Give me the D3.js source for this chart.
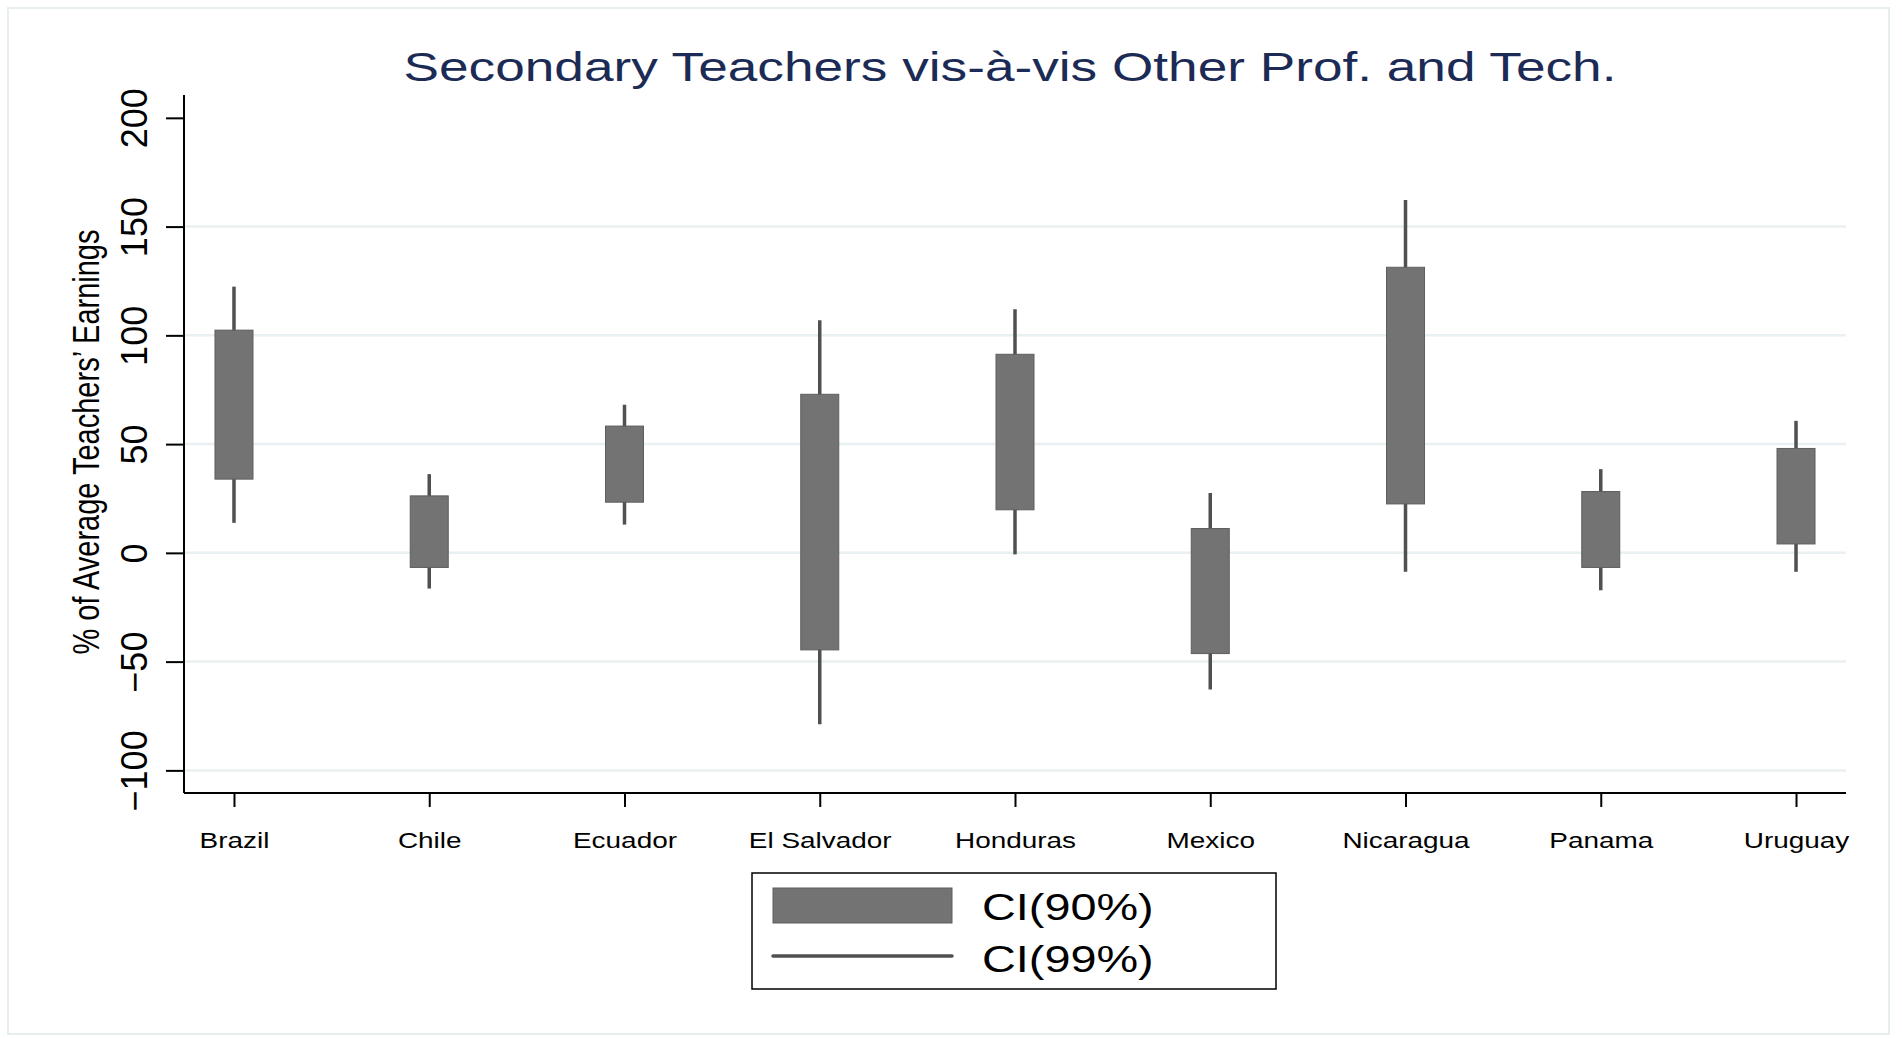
<!DOCTYPE html>
<html>
<head>
<meta charset="utf-8">
<script src="https://cdn.jsdelivr.net/npm/d3@7"></script>
<style>
  body { margin: 0; background: #fff; }
  text { font-family: Arial, "Liberation Sans", sans-serif; }
</style>
</head>
<body>
<div id="chart"></div>
<script>
// Data
const countries = ['Brazil', 'Chile', 'Ecuador', 'El Salvador', 'Honduras', 'Mexico', 'Nicaragua', 'Panama', 'Uruguay']
const ci90Low  = [33.9, -6.7, 23.3, -44.6, 19.8, -46.3, 22.5, -6.7, 4.1]
const ci90High = [102.4, 26.2, 58.3, 72.9, 91.3, 11.2, 131.3, 28.2, 48.0]
const ci99Low  = [13.8, -16.4, 13.0, -78.8, -0.7, -62.8, -8.7, -17.2, -8.7]
const ci99High = [122.4, 36.2, 68.1, 107.0, 112.0, 27.5, 162.2, 38.5, 60.7]
const yTicks = [-100, -50, 0, 50, 100, 150, 200]
const gridTicks = [-100, -50, 0, 50, 100, 150]
const legendLabels = ['CI(90%)', 'CI(99%)']

const data = countries.map((c, i) => ({
    country: c, lo90: ci90Low[i], hi90: ci90High[i], lo99: ci99Low[i], hi99: ci99High[i]
}))

// Constants
const width = 1902
const height = 1038
const plot = { left: 184, right: 1846, top: 95, bottom: 793 }
const stretch = 1.3   // glyphs in the original are drawn wide
const boxWidth = 38
const boxColor = '#737373'
const whiskerColor = '#505050'
const gridColor = '#e8f0f1'

const svg = d3.select('#chart')
    .append('svg')
    .attr('width', width)
    .attr('height', height)

// Outer frame
svg.append('rect')
    .attr('x', 8).attr('y', 8)
    .attr('width', 1881).attr('height', 1026)
    .attr('fill', '#fff')
    .attr('stroke', '#e6eef0')
    .attr('stroke-width', 2)

// Scales
const x = d3.scalePoint()
    .domain(countries)
    .range([plot.left, plot.right])
    .padding(0.256)

const y = d3.scaleLinear()
    .domain([-110.4, 210.5])
    .range([plot.bottom, plot.top])

// Gridlines
svg.append('g').selectAll('line')
    .data(gridTicks)
    .enter().append('line')
    .attr('x1', plot.left).attr('x2', plot.right)
    .attr('y1', d => y(d)).attr('y2', d => y(d))
    .attr('stroke', gridColor)
    .attr('stroke-width', 2.5)

// Title
svg.append('text')
    .attr('transform', `translate(1010, 81) scale(1.33, 1)`)
    .attr('text-anchor', 'middle')
    .style('font-size', '40px')
    .attr('fill', '#1c2b55')
    .text('Secondary Teachers vis-à-vis Other Prof. and Tech.')

// Y axis
const yAxisGroup = svg.append('g')
    .attr('transform', `translate(${plot.left}, 0)`)
    .call(d3.axisLeft(y).tickValues(yTicks).tickSize(18).tickSizeOuter(0))
yAxisGroup.select('.domain')
    .attr('d', `M0,${plot.top}V${plot.bottom}`)
    .attr('stroke', '#000').attr('stroke-width', 2)
yAxisGroup.selectAll('.tick line').attr('stroke', '#000').attr('stroke-width', 2)
yAxisGroup.selectAll('.tick text')
    .attr('x', null).attr('dy', null)
    .attr('transform', 'translate(-37, 0) rotate(-90)')
    .attr('text-anchor', 'middle')
    .attr('fill', '#000')
    .style('font-size', '36px')

// Y axis title
svg.append('text')
    .attr('transform', `translate(99, 442) scale(${stretch}, 1) rotate(-90)`)
    .attr('text-anchor', 'middle')
    .style('font-size', '29px')
    .attr('fill', '#000')
    .text('% of Average Teachers\u2019 Earnings')

// X axis
const xAxisGroup = svg.append('g')
    .attr('transform', `translate(0, ${plot.bottom})`)
    .call(d3.axisBottom(x).tickSize(14).tickSizeOuter(0))
xAxisGroup.select('.domain')
    .attr('d', `M${plot.left},0H${plot.right}`)
    .attr('stroke', '#000').attr('stroke-width', 2)
xAxisGroup.selectAll('.tick line').attr('stroke', '#000').attr('stroke-width', 2)
xAxisGroup.selectAll('.tick text')
    .attr('y', null).attr('dy', null)
    .attr('transform', `translate(0, 55) scale(1.27, 1)`)
    .attr('text-anchor', 'middle')
    .attr('fill', '#000')
    .style('font-size', '22px')

// Whiskers (CI 99%)
const marks = svg.append('g')
marks.selectAll('.whisker')
    .data(data)
    .enter().append('line')
    .attr('class', 'whisker')
    .attr('x1', d => x(d.country)).attr('x2', d => x(d.country))
    .attr('y1', d => y(d.hi99)).attr('y2', d => y(d.lo99))
    .attr('stroke', whiskerColor)
    .attr('stroke-width', 3.5)

// Boxes (CI 90%)
marks.selectAll('.box')
    .data(data)
    .enter().append('rect')
    .attr('class', 'box')
    .attr('x', d => x(d.country) - boxWidth / 2)
    .attr('width', boxWidth)
    .attr('y', d => y(d.hi90))
    .attr('height', d => y(d.lo90) - y(d.hi90))
    .attr('fill', boxColor)
    .attr('stroke', '#5e5e5e')
    .attr('stroke-width', 1)

// Legend
const legend = svg.append('g')
legend.append('rect')
    .attr('x', 752).attr('y', 873)
    .attr('width', 524).attr('height', 116)
    .attr('fill', '#fff')
    .attr('stroke', '#000')
    .attr('stroke-width', 1.5)
legend.append('rect')
    .attr('x', 773).attr('y', 888)
    .attr('width', 179).attr('height', 35)
    .attr('fill', boxColor)
    .attr('stroke', '#5e5e5e')
legend.append('line')
    .attr('x1', 773).attr('x2', 952)
    .attr('y1', 956).attr('y2', 956)
    .attr('stroke', whiskerColor)
    .attr('stroke-width', 3.5)
    .attr('stroke-linecap', 'round')
legend.selectAll('.legend-label')
    .data(legendLabels)
    .enter().append('text')
    .attr('class', 'legend-label')
    .attr('transform', (d, i) => `translate(982, ${920 + i * 52}) scale(${stretch}, 1)`)
    .style('font-size', '36px')
    .attr('fill', '#000')
    .text(d => d)
</script>
</body>
</html>
